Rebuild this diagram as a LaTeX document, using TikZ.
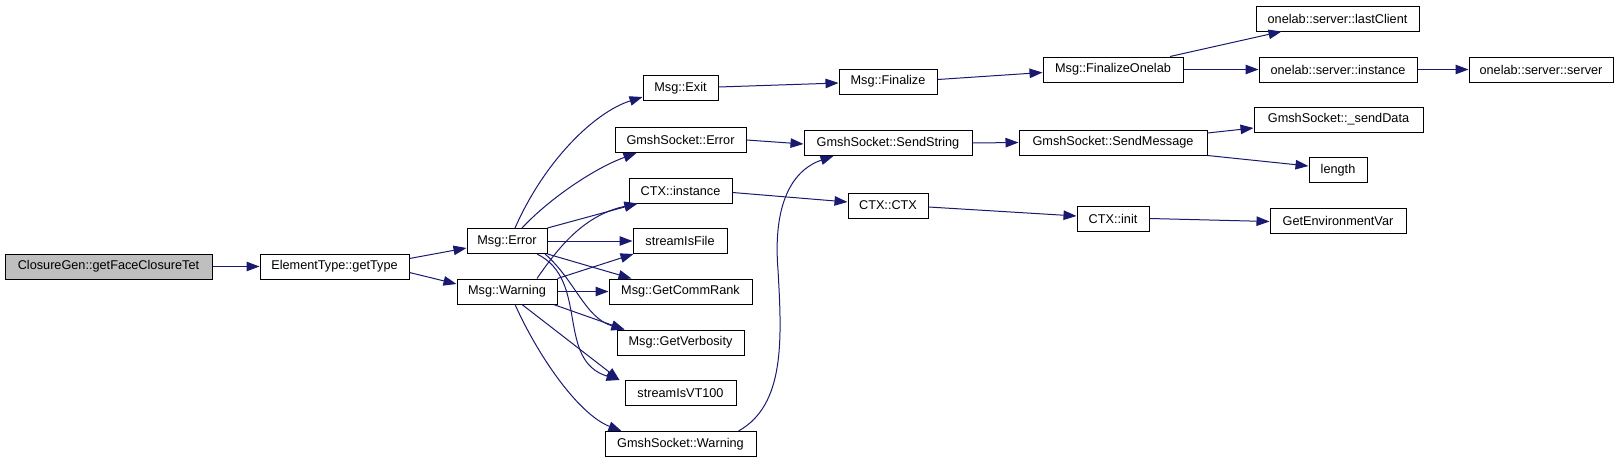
\documentclass[tikz,border=0pt]{standalone}
\usepackage{fontspec}
\setmainfont{Liberation Sans}
\usetikzlibrary{arrows.meta,calc}
\definecolor{edgeblue}{HTML}{191970}
\definecolor{rootgray}{HTML}{BFBFBF}
\begin{document}
\begin{tikzpicture}[x=1pt,y=-1pt,
  fn/.style={draw=black,line width=1pt,rectangle,inner sep=0pt,minimum height=25pt,
    font=\fontsize{12.7}{15}\selectfont},
  calls/.style={draw=edgeblue,line width=1pt,-{Triangle[length=13pt,width=9.5pt]}}]
% Page size of the graph
\useasboundingbox (0,0) rectangle (1619,463);

% Column 0 and 1
\node[fn,fill=rootgray,minimum width=207pt] (root) at (108.5,266.5) {ClosureGen::getFaceClosureTet};
\node[fn,minimum width=149pt] (eltype) at (334.5,266.5) {ElementType::getType};

% Column 2
\node[fn,minimum width=80pt]  (err)  at (507,241)   {Msg::Error};
\node[fn,minimum width=100pt] (warn) at (507,291.5) {Msg::Warning};

% Column 3
\node[fn,minimum width=75pt]  (exit)  at (680.5,88)    {Msg::Exit};
\node[fn,minimum width=131pt] (gerr)  at (680.5,140)   {GmshSocket::Error};
\node[fn,minimum width=103pt] (ctxi)  at (680.5,190.5) {CTX::instance};
\node[fn,minimum width=94pt]  (sfile) at (680,241)     {streamIsFile};
\node[fn,minimum width=143pt] (rank)  at (680.5,291.5) {Msg::GetCommRank};
\node[fn,minimum width=127pt] (verb)  at (680.5,342.5) {Msg::GetVerbosity};
\node[fn,minimum width=111pt] (vt)    at (680.5,393)   {streamIsVT100};
\node[fn,minimum width=151pt] (gwarn) at (680.5,444)   {GmshSocket::Warning};

% Column 4
\node[fn,minimum width=98pt]  (fin)  at (888,81.5)  {Msg::Finalize};
\node[fn,minimum width=168pt] (send) at (888,143)   {GmshSocket::SendString};
\node[fn,minimum width=80pt]  (ctx)  at (888,205.5) {CTX::CTX};

% Column 5
\node[fn,minimum width=140pt] (fonelab) at (1113,69.5)  {Msg::FinalizeOnelab};
\node[fn,minimum width=188pt] (smsg)    at (1113,142.5) {GmshSocket::SendMessage};
\node[fn,minimum width=72pt]  (init)    at (1113,218.5) {CTX::init};

% Column 6 and 7
\node[fn,minimum width=163pt] (last)  at (1337.5,18.5) {onelab::server::lastClient};
\node[fn,minimum width=158pt] (oinst) at (1338,69.5)   {onelab::server::instance};
\node[fn,minimum width=169pt] (sdata) at (1338.5,119.5) {GmshSocket::\_sendData};
\node[fn,minimum width=58pt]  (len)   at (1338,170)    {length};
\node[fn,minimum width=136pt] (genv)  at (1338,220.5)  {GetEnvironmentVar};
\node[fn,minimum width=144pt] (oserv) at (1541,69.5)   {onelab::server::server};

% Calls
\draw[calls] (root) -- (eltype);
\draw[calls] ([yshift=8pt]eltype.east) -- ([yshift=-7pt]err.west);
\draw[calls] ([yshift=-6pt]eltype.east) -- ([yshift=7.5pt]warn.west);

% from Msg::Error
\draw[calls] ([xshift=8pt]err.north) .. controls (545,160) and (595,112) .. ([yshift=-9pt]exit.west);
\draw[calls] ([xshift=15pt]err.north) .. controls (550,198) and (595,168) .. ([xshift=22pt]gerr.south west);
\draw[calls] (err.north east) -- ([xshift=9pt]ctxi.south west);
\draw[calls] (err.east) -- (sfile.west);
\draw[calls] (err.south east) -- ([xshift=23pt]rank.north west);
\draw[calls] ([xshift=38pt]err.south) .. controls (575,280) and (585,318) .. ([xshift=8pt]verb.north west);
\draw[calls] ([xshift=30pt]err.south) .. controls (590,280) and (555,360) .. ([xshift=-5pt]vt.north west);

% from Msg::Warning
\draw[calls] ([xshift=30pt]warn.north) .. controls (560,245) and (585,215) .. ([xshift=9pt]ctxi.south west);
\draw[calls] (warn.north east) -- ([xshift=1pt]sfile.south west);
\draw[calls] (warn.east) -- (rank.west);
\draw[calls] ([xshift=-4pt]warn.south east) -- ([xshift=8pt]verb.north west);
\draw[calls] ([xshift=15pt]warn.south) -- ([xshift=-5pt]vt.north west);
\draw[calls] ([xshift=8pt]warn.south) .. controls (540,360) and (580,415) .. ([xshift=17pt]gwarn.north west);

% rest of the graph
\draw[calls] ([yshift=1pt]exit.east) -- ([yshift=-1.5pt]fin.west);
\draw[calls] ([yshift=2pt]fin.east) -- ([yshift=-3pt]fonelab.west);
\draw[calls] ([xshift=57pt]fonelab.north) -- ([xshift=-56pt]last.south);
\draw[calls] (fonelab.east) -- (oinst.west);
\draw[calls] (oinst) -- (oserv);
\draw[calls] (gerr.east) -- ([yshift=-1pt]send.west);
\draw[calls] ([xshift=58pt]gwarn.north) .. controls (785,405) and (782,340) .. (778,270)
  .. controls (772,195) and (798,168) .. ([xshift=30pt]send.south west);
\draw[calls] (send.east) -- (smsg.west);
\draw[calls] ([yshift=9.5pt]smsg.east) -- ([yshift=-8.5pt]sdata.west);
\draw[calls] (smsg.south east) -- ([yshift=4pt]len.west);
\draw[calls] ([yshift=-2pt]ctxi.east) -- ([yshift=3.5pt]ctx.west);
\draw[calls] ([yshift=-1.5pt]ctx.east) -- ([yshift=2.5pt]init.west);
\draw[calls] (init.east) -- ([yshift=-1pt]genv.west);
\end{tikzpicture}
\end{document}
